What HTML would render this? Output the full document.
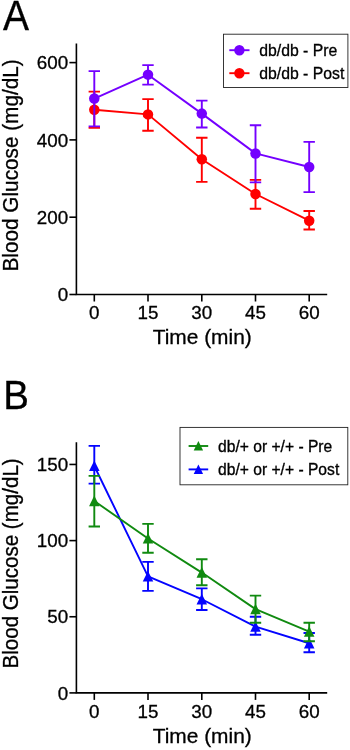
<!DOCTYPE html>
<html><head><meta charset="utf-8"><style>
html,body{margin:0;padding:0;background:#fff;}
svg{display:block;font-family:"Liberation Sans", sans-serif;fill:#000;will-change:transform;}
text{stroke:#000;stroke-width:0.3px;}
</style></head><body>
<svg width="350" height="750" viewBox="0 0 350 750">
<rect width="350" height="750" fill="#fff"/>
<path d="M76.4 44.4 V294.5 H326.4" fill="none" stroke="#000" stroke-width="1.6" stroke-linecap="square"/>
<line x1="69.4" y1="294.50" x2="76.4" y2="294.50" stroke="#000" stroke-width="1.6"/>
<text transform="translate(68.20 301.20)" text-anchor="end" font-size="18.8">0</text>
<line x1="69.4" y1="217.20" x2="76.4" y2="217.20" stroke="#000" stroke-width="1.6"/>
<text transform="translate(68.20 223.90)" text-anchor="end" font-size="18.8">200</text>
<line x1="69.4" y1="139.90" x2="76.4" y2="139.90" stroke="#000" stroke-width="1.6"/>
<text transform="translate(68.20 146.60)" text-anchor="end" font-size="18.8">400</text>
<line x1="69.4" y1="62.60" x2="76.4" y2="62.60" stroke="#000" stroke-width="1.6"/>
<text transform="translate(68.20 69.30)" text-anchor="end" font-size="18.8">600</text>
<line x1="94.3" y1="294.5" x2="94.3" y2="301.5" stroke="#000" stroke-width="1.6"/>
<text transform="translate(94.30 319.10)" text-anchor="middle" font-size="18.8">0</text>
<line x1="148" y1="294.5" x2="148" y2="301.5" stroke="#000" stroke-width="1.6"/>
<text transform="translate(148.00 319.10)" text-anchor="middle" font-size="18.8">15</text>
<line x1="201.8" y1="294.5" x2="201.8" y2="301.5" stroke="#000" stroke-width="1.6"/>
<text transform="translate(201.80 319.10)" text-anchor="middle" font-size="18.8">30</text>
<line x1="255.5" y1="294.5" x2="255.5" y2="301.5" stroke="#000" stroke-width="1.6"/>
<text transform="translate(255.50 319.10)" text-anchor="middle" font-size="18.8">45</text>
<line x1="309.2" y1="294.5" x2="309.2" y2="301.5" stroke="#000" stroke-width="1.6"/>
<text transform="translate(309.20 319.10)" text-anchor="middle" font-size="18.8">60</text>
<text transform="translate(202.20 344.20)" text-anchor="middle" font-size="20.9">Time (min)</text>
<text transform="translate(18.00 165.40) rotate(-90) scale(1.0 1.035)" text-anchor="middle" font-size="20.75">Blood Glucose (mg/dL)</text>
<text transform="translate(2.90 30.30) scale(0.94 1.01)" text-anchor="start" font-size="41.5">A</text>
<path d="M94.3 127.92 V91.59 M88.6 127.92 H100.0 M88.6 91.59 H100.0" fill="none" stroke="#ff0000" stroke-width="1.9"/>
<path d="M148 130.82 V99.12 M142.3 130.82 H153.7 M142.3 99.12 H153.7" fill="none" stroke="#ff0000" stroke-width="1.9"/>
<path d="M201.8 181.84 V137.77 M196.10000000000002 181.84 H207.5 M196.10000000000002 137.77 H207.5" fill="none" stroke="#ff0000" stroke-width="1.9"/>
<path d="M255.5 208.70 V179.90 M249.8 208.70 H261.2 M249.8 179.90 H261.2" fill="none" stroke="#ff0000" stroke-width="1.9"/>
<path d="M309.2 229.57 V211.02 M303.5 229.57 H314.9 M303.5 211.02 H314.9" fill="none" stroke="#ff0000" stroke-width="1.9"/>
<path d="M94.3 109.75 L148 114.39 L201.8 159.22 L255.5 194.01 L309.2 220.72" fill="none" stroke="#ff0000" stroke-width="1.9" stroke-linejoin="round"/>
<circle cx="94.3" cy="109.75" r="5.25" fill="#ff0000"/>
<circle cx="148" cy="114.39" r="5.25" fill="#ff0000"/>
<circle cx="201.8" cy="159.22" r="5.25" fill="#ff0000"/>
<circle cx="255.5" cy="194.01" r="5.25" fill="#ff0000"/>
<circle cx="309.2" cy="220.72" r="5.25" fill="#ff0000"/>
<path d="M94.3 126.37 V71.10 M88.6 126.37 H100.0 M88.6 71.10 H100.0" fill="none" stroke="#7400ff" stroke-width="1.9"/>
<path d="M148 84.63 V65.11 M142.3 84.63 H153.7 M142.3 65.11 H153.7" fill="none" stroke="#7400ff" stroke-width="1.9"/>
<path d="M201.8 127.53 V100.67 M196.10000000000002 127.53 H207.5 M196.10000000000002 100.67 H207.5" fill="none" stroke="#7400ff" stroke-width="1.9"/>
<path d="M255.5 182.42 V125.21 M249.8 182.42 H261.2 M249.8 125.21 H261.2" fill="none" stroke="#7400ff" stroke-width="1.9"/>
<path d="M309.2 192.08 V141.83 M303.5 192.08 H314.9 M303.5 141.83 H314.9" fill="none" stroke="#7400ff" stroke-width="1.9"/>
<path d="M94.3 98.54 L148 74.66 L201.8 113.62 L255.5 153.43 L309.2 166.96" fill="none" stroke="#7400ff" stroke-width="1.9" stroke-linejoin="round"/>
<circle cx="94.3" cy="98.54" r="5.25" fill="#7400ff"/>
<circle cx="148" cy="74.66" r="5.25" fill="#7400ff"/>
<circle cx="201.8" cy="113.62" r="5.25" fill="#7400ff"/>
<circle cx="255.5" cy="153.43" r="5.25" fill="#7400ff"/>
<circle cx="309.2" cy="166.96" r="5.25" fill="#7400ff"/>
<rect x="223.5" y="34.2" width="124.4" height="53.3" fill="#fff" stroke="#222" stroke-width="0.9"/>
<line x1="229.3" y1="50.2" x2="249.5" y2="50.2" stroke="#7400ff" stroke-width="1.9"/>
<circle cx="239.4" cy="50.20" r="5.2" fill="#7400ff"/>
<text transform="translate(259.20 56.40) scale(1.0 1.06)" text-anchor="start" font-size="15.8">db/db - Pre</text>
<line x1="229.3" y1="73.2" x2="249.5" y2="73.2" stroke="#ff0000" stroke-width="1.9"/>
<circle cx="239.4" cy="73.20" r="5.2" fill="#ff0000"/>
<text transform="translate(259.20 79.40) scale(1.0 1.06)" text-anchor="start" font-size="15.8">db/db - Post</text>
<path d="M76.4 443.1 V692.9 H326.4" fill="none" stroke="#000" stroke-width="1.6" stroke-linecap="square"/>
<line x1="69.4" y1="692.90" x2="76.4" y2="692.90" stroke="#000" stroke-width="1.6"/>
<text transform="translate(68.20 699.60)" text-anchor="end" font-size="18.8">0</text>
<line x1="69.4" y1="616.75" x2="76.4" y2="616.75" stroke="#000" stroke-width="1.6"/>
<text transform="translate(68.20 623.45)" text-anchor="end" font-size="18.8">50</text>
<line x1="69.4" y1="540.60" x2="76.4" y2="540.60" stroke="#000" stroke-width="1.6"/>
<text transform="translate(68.20 547.30)" text-anchor="end" font-size="18.8">100</text>
<line x1="69.4" y1="464.45" x2="76.4" y2="464.45" stroke="#000" stroke-width="1.6"/>
<text transform="translate(68.20 471.15)" text-anchor="end" font-size="18.8">150</text>
<line x1="94.3" y1="692.9" x2="94.3" y2="699.9" stroke="#000" stroke-width="1.6"/>
<text transform="translate(94.30 717.60)" text-anchor="middle" font-size="18.8">0</text>
<line x1="148" y1="692.9" x2="148" y2="699.9" stroke="#000" stroke-width="1.6"/>
<text transform="translate(148.00 717.60)" text-anchor="middle" font-size="18.8">15</text>
<line x1="201.8" y1="692.9" x2="201.8" y2="699.9" stroke="#000" stroke-width="1.6"/>
<text transform="translate(201.80 717.60)" text-anchor="middle" font-size="18.8">30</text>
<line x1="255.5" y1="692.9" x2="255.5" y2="699.9" stroke="#000" stroke-width="1.6"/>
<text transform="translate(255.50 717.60)" text-anchor="middle" font-size="18.8">45</text>
<line x1="309.2" y1="692.9" x2="309.2" y2="699.9" stroke="#000" stroke-width="1.6"/>
<text transform="translate(309.20 717.60)" text-anchor="middle" font-size="18.8">60</text>
<text transform="translate(202.20 742.70)" text-anchor="middle" font-size="20.9">Time (min)</text>
<text transform="translate(18.00 563.40) rotate(-90) scale(1.0 1.035)" text-anchor="middle" font-size="20.55">Blood Glucose (mg/dL)</text>
<text transform="translate(3.20 409.30) scale(0.95 1.0)" text-anchor="start" font-size="40.5">B</text>
<path d="M94.3 483.64 V445.87 M88.6 483.64 H100.0 M88.6 445.87 H100.0" fill="none" stroke="#0404ff" stroke-width="1.9"/>
<path d="M148 590.86 V561.92 M142.3 590.86 H153.7 M142.3 561.92 H153.7" fill="none" stroke="#0404ff" stroke-width="1.9"/>
<path d="M201.8 610.05 V588.42 M196.10000000000002 610.05 H207.5 M196.10000000000002 588.42 H207.5" fill="none" stroke="#0404ff" stroke-width="1.9"/>
<path d="M255.5 634.72 V616.75 M249.8 634.72 H261.2 M249.8 616.75 H261.2" fill="none" stroke="#0404ff" stroke-width="1.9"/>
<path d="M309.2 652.24 V633.05 M303.5 652.24 H314.9 M303.5 633.05 H314.9" fill="none" stroke="#0404ff" stroke-width="1.9"/>
<path d="M94.3 465.97 L148 576.39 L201.8 599.24 L255.5 626.65 L309.2 643.25" fill="none" stroke="#0404ff" stroke-width="1.9" stroke-linejoin="round"/>
<path d="M94.3 460.50 L99.55 471.12 H89.05 Z" fill="#0404ff"/>
<path d="M148 570.91 L153.25 581.54 H142.75 Z" fill="#0404ff"/>
<path d="M201.8 593.76 L207.05 604.38 H196.55 Z" fill="#0404ff"/>
<path d="M255.5 621.17 L260.75 631.79 H250.25 Z" fill="#0404ff"/>
<path d="M309.2 637.77 L314.45 648.40 H303.95 Z" fill="#0404ff"/>
<path d="M94.3 526.44 V475.87 M88.6 526.44 H100.0 M88.6 475.87 H100.0" fill="none" stroke="#108a10" stroke-width="1.9"/>
<path d="M148 552.78 V523.85 M142.3 552.78 H153.7 M142.3 523.85 H153.7" fill="none" stroke="#108a10" stroke-width="1.9"/>
<path d="M201.8 585.22 V559.18 M196.10000000000002 585.22 H207.5 M196.10000000000002 559.18 H207.5" fill="none" stroke="#108a10" stroke-width="1.9"/>
<path d="M255.5 622.69 V595.58 M249.8 622.69 H261.2 M249.8 595.58 H261.2" fill="none" stroke="#108a10" stroke-width="1.9"/>
<path d="M309.2 641.27 V622.69 M303.5 641.27 H314.9 M303.5 622.69 H314.9" fill="none" stroke="#108a10" stroke-width="1.9"/>
<path d="M94.3 501.00 L148 538.47 L201.8 572.58 L255.5 609.13 L309.2 631.68" fill="none" stroke="#108a10" stroke-width="1.9" stroke-linejoin="round"/>
<path d="M94.3 495.53 L99.55 506.15 H89.05 Z" fill="#108a10"/>
<path d="M148 532.99 L153.25 543.61 H142.75 Z" fill="#108a10"/>
<path d="M201.8 567.11 L207.05 577.73 H196.55 Z" fill="#108a10"/>
<path d="M255.5 603.66 L260.75 614.28 H250.25 Z" fill="#108a10"/>
<path d="M309.2 626.20 L314.45 636.82 H303.95 Z" fill="#108a10"/>
<rect x="180" y="427.4" width="167.8" height="57.4" fill="#fff" stroke="#222" stroke-width="0.9"/>
<line x1="188.6" y1="446.0" x2="208.2" y2="446.0" stroke="#108a10" stroke-width="1.9"/>
<path d="M198.39999999999998 441.10 L203.09999999999997 450.61 H193.7 Z" fill="#108a10"/>
<text transform="translate(218.00 451.70) scale(1.0 1.06)" text-anchor="start" font-size="15.65">db/+ or +/+ - Pre</text>
<line x1="188.6" y1="469.4" x2="208.2" y2="469.4" stroke="#0404ff" stroke-width="1.9"/>
<path d="M198.39999999999998 464.50 L203.09999999999997 474.01 H193.7 Z" fill="#0404ff"/>
<text transform="translate(218.00 475.10) scale(1.0 1.06)" text-anchor="start" font-size="15.65">db/+ or +/+ - Post</text>
</svg>
</body></html>
